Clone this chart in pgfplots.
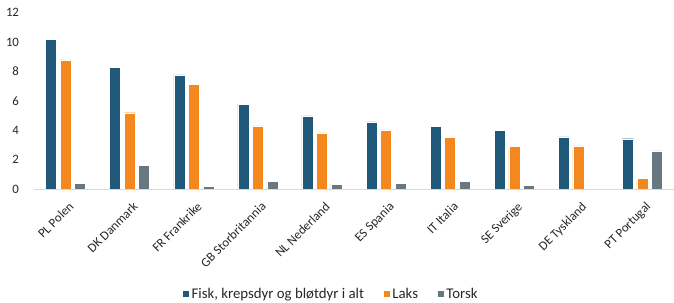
\documentclass[border=0pt]{standalone}
\usepackage{pgfplots}
\pgfplotsset{compat=1.18}
\usepackage{fontspec}
\setmainfont{Carlito}
\definecolor{cblue}{HTML}{1F5878}
\definecolor{corange}{HTML}{F5871F}
\definecolor{cgray}{HTML}{687780}
\definecolor{axgray}{HTML}{D9D9D9}
\definecolor{txt}{HTML}{262626}
\begin{document}
\begin{tikzpicture}
\useasboundingbox (0,0) rectangle (674bp,303bp);
\begin{axis}[
  at={(33.5bp,114bp)}, anchor=south west,
  scale only axis, width=641bp, height=176.4bp,
  xmin=-0.5, xmax=9.5, ymin=0, ymax=12,
  ytick={0,2,...,12},
  xtick={0,...,9},
  xticklabels={PL Polen,DK Danmark,FR Frankrike,GB Storbritannia,NL Nederland,ES Spania,IT Italia,SE Sverige,DE Tyskland,PT Portugal},
  major tick length=0pt,
  axis x line*=bottom, axis y line*=left,
  x axis line style={draw=axgray, line width=0.8pt},
  y axis line style={draw=none},
  /pgf/number format/assume math mode=true,
  tick label style={font=\fontsize{12.8bp}{14bp}\selectfont, text=txt},
  yticklabel style={anchor=east, xshift=-11bp},
  xticklabel style={xshift=2.5bp, yshift=-12bp, rotate=45, anchor=north east, inner sep=0pt},
  ybar, bar width=11bp,
  legend columns=3,
  legend style={at={(0.464,-0.595)}, anchor=center, draw=none, fill=none,
    font=\fontsize{14.8bp}{16bp}\selectfont, text=txt,
    /tikz/every even column/.append style={column sep=17bp}},
  legend image code/.code={\fill[#1] (0bp,-3.5bp) rectangle (7bp,3.5bp);},
]
\addplot[fill=cblue, draw=white, line width=0.4pt, bar shift=-14.5bp] coordinates {
(0,10.2) (1,8.28) (2,7.76) (3,5.78) (4,4.97) (5,4.56) (6,4.24) (7,3.97) (8,3.54) (9,3.42)};
\addplot[fill=corange, draw=white, line width=0.4pt, bar shift=0bp] coordinates {
(0,8.78) (1,5.19) (2,7.12) (3,4.29) (4,3.81) (5,4.03) (6,3.52) (7,2.90) (8,2.93) (9,0.73)};
\addplot[fill=cgray, draw=white, line width=0.4pt, bar shift=14.5bp] coordinates {
(0,0.39) (1,1.63) (2,0.20) (3,0.52) (4,0.33) (5,0.39) (6,0.54) (7,0.25) (8,0.05) (9,2.59)};
\legend{{Fisk, krepsdyr og bløtdyr i alt},Laks,Torsk}
\end{axis}
\end{tikzpicture}
\end{document}
